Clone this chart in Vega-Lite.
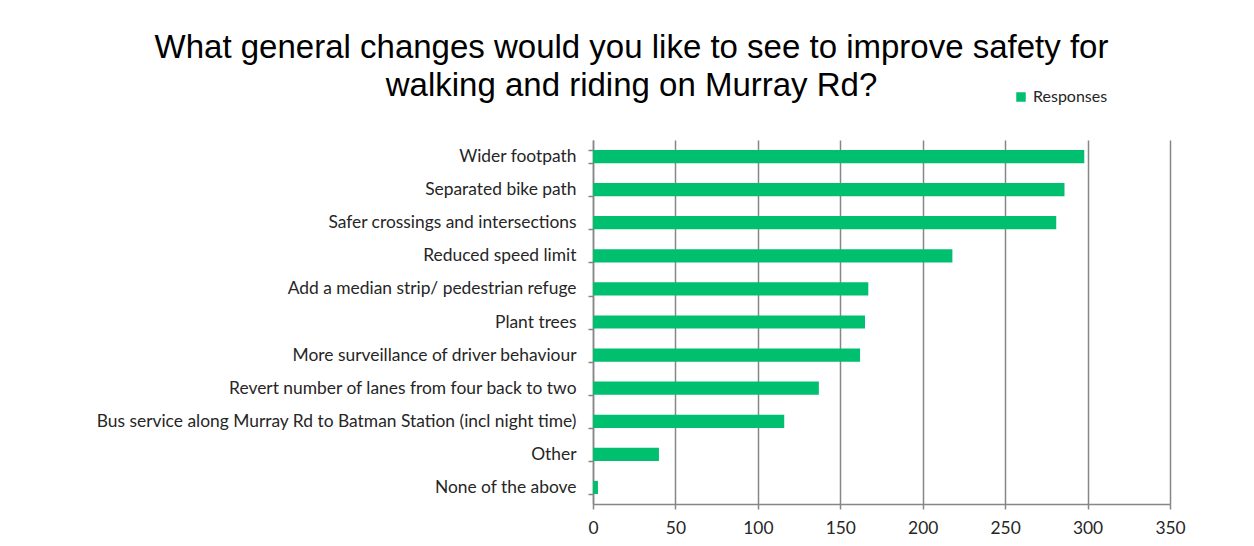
{
  "$schema": "https://vega.github.io/schema/vega-lite/v6.json",
  "width": 577,
  "height": 364,
  "autosize": {"type": "none"},
  "padding": {"left": 593, "top": 140, "right": 84, "bottom": 42},
  "background": "white",
  "title": {
    "text": ["What general changes would you like to see to improve safety for", "walking and riding on Murray Rd?"],
    "font": "Liberation Sans",
    "fontSize": 33,
    "fontWeight": "normal",
    "color": "#000000",
    "anchor": "middle",
    "frame": "group",
    "dx": -250,
    "lineHeight": 38,
    "offset": -14
  },
  "data": {
    "values": [
      {"Change": "Wider footpath", "Responses": 298, "Series": "Responses"},
      {"Change": "Separated bike path", "Responses": 286, "Series": "Responses"},
      {"Change": "Safer crossings and intersections", "Responses": 281, "Series": "Responses"},
      {"Change": "Reduced speed limit", "Responses": 218, "Series": "Responses"},
      {"Change": "Add a median strip/ pedestrian refuge ", "Responses": 167, "Series": "Responses"},
      {"Change": "Plant trees", "Responses": 165, "Series": "Responses"},
      {"Change": "More surveillance of driver behaviour", "Responses": 162, "Series": "Responses"},
      {"Change": "Revert number of lanes from four back to two", "Responses": 137, "Series": "Responses"},
      {"Change": "Bus service along Murray Rd to Batman Station (incl night time)", "Responses": 116, "Series": "Responses"},
      {"Change": "Other ", "Responses": 40, "Series": "Responses"},
      {"Change": "None of the above", "Responses": 3, "Series": "Responses"}
    ]
  },
  "mark": {"type": "bar", "color": "#00BF6F"},
  "encoding": {
    "y": {
      "field": "Change",
      "type": "nominal",
      "sort": null,
      "title": null,
      "scale": {"paddingInner": 0.6, "paddingOuter": 0.3},
      "axis": {
        "labelFont": "Lato",
        "labelFontSize": 17.4,
        "labelColor": "#262626",
        "labelLimit": 600,
        "labelPadding": 12,
        "tickBand": "extent",
        "tickSize": 5,
        "tickColor": "#868686",
        "domainColor": "#868686",
        "domainWidth": 1.5,
        "tickWidth": 1.5,
        "grid": false
      }
    },
    "x": {
      "field": "Responses",
      "type": "quantitative",
      "title": null,
      "scale": {"domain": [0, 350], "nice": false},
      "axis": {
        "values": [0, 50, 100, 150, 200, 250, 300, 350],
        "labelFont": "Lato",
        "labelFontSize": 17.4,
        "labelColor": "#262626",
        "labelPadding": 10,
        "labelFlush": false,
        "tickSize": 5,
        "tickColor": "#868686",
        "domainColor": "#868686",
        "domainWidth": 1.5,
        "tickWidth": 1.5,
        "grid": true,
        "gridColor": "#868686",
        "gridWidth": 1.5
      }
    },
    "fill": {
      "field": "Series",
      "type": "nominal",
      "scale": {"range": ["#00BF6F"]},
      "legend": {
        "title": null,
        "orient": "none",
        "legendX": 420,
        "legendY": -51,
        "symbolType": "square",
        "symbolSize": 90,
        "labelFont": "Lato",
        "labelFontSize": 16,
        "labelColor": "#262626"
      }
    }
  },
  "config": {"view": {"stroke": null}}
}
